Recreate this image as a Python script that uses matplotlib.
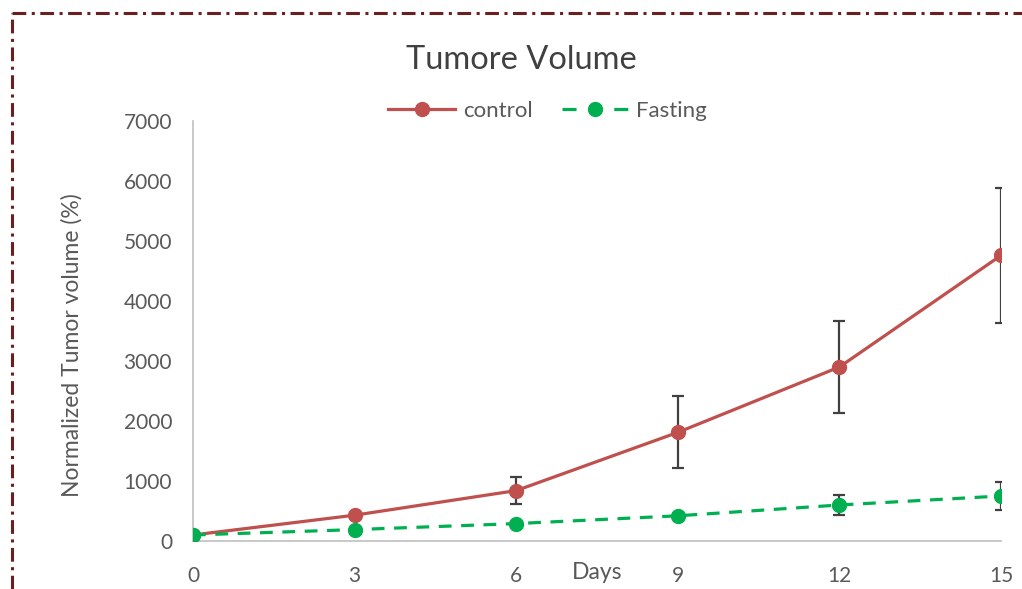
import matplotlib
matplotlib.use('Agg')
import matplotlib.pyplot as plt
from matplotlib.lines import Line2D

plt.rcParams['font.family'] = ['Lato', 'DejaVu Sans']

days = [0, 3, 6, 9, 12, 15]
control = [100, 430, 840, 1810, 2900, 4760]
control_err = [0, 0, 230, 600, 770, 1130]
fasting = [100, 190, 290, 420, 600, 750]
fasting_err = [0, 0, 0, 0, 170, 230]
y_ticks = [0, 1000, 2000, 3000, 4000, 5000, 6000, 7000]

fig = plt.figure(figsize=(10.22, 5.89), dpi=100)
ax = fig.add_axes([0.1888, 0.0815, 0.7907, 0.7131])

ax.errorbar(days, control, yerr=control_err, color='#C0504D', lw=2.3,
            marker='o', ms=10, ecolor='#404040', elinewidth=1.6,
            capsize=4, capthick=1.6, label='control', zorder=3)
ax.errorbar(days, fasting, yerr=fasting_err, color='#00B050', lw=2.3,
            ls=(0, (4, 3)), marker='o', ms=10, ecolor='#404040',
            elinewidth=1.6, capsize=4, capthick=1.6, label='Fasting', zorder=3)

ax.set_xlim(0, 15)
ax.set_ylim(0, 7000)
ax.set_xticks(days)
ax.set_yticks(y_ticks)
ax.tick_params(axis='x', length=0, pad=18, labelsize=15, colors='#595959')
ax.tick_params(axis='y', length=0, pad=15, labelsize=15, colors='#595959')
for s in ['top', 'right']:
    ax.spines[s].set_visible(False)
for s in ['left', 'bottom']:
    ax.spines[s].set_color('#BFBFBF')
    ax.spines[s].set_linewidth(1.2)

fig.text(72 / 1022, 1 - 345 / 589, 'Normalized Tumor volume (%)', fontsize=16.5,
         color='#595959', rotation=90, ha='center', va='center')
ax.text(7.5, -517, 'Days', fontsize=16.5, color='#595959', ha='center', va='center')

fig.text(0.51, 0.898, 'Tumore Volume', fontsize=23.5, color='#404040', ha='center', va='center')

handles = [Line2D([], [], color='#C0504D', lw=2.3, marker='o', ms=10),
           Line2D([], [], color='#00B050', lw=2.3, ls=(0, (4.4, 3.7)), marker='o', ms=10)]
fig.legend(handles, ['control', 'Fasting'], loc='center', bbox_to_anchor=(0.536, 0.812),
           ncol=2, frameon=False, fontsize=16, labelcolor='#595959',
           handlelength=3.0, columnspacing=1.3, handletextpad=0.36)

# dash-dot border along top and left edges
border = dict(color='#6B1F1F', lw=2.2, ls=(0, (4.5, 1.8, 1, 1.8)))
fig.add_artist(Line2D([0.0117, 1.0], [0.978, 0.978], transform=fig.transFigure, **border))
fig.add_artist(Line2D([0.0117, 0.0117], [0.0, 0.978], transform=fig.transFigure, **border))

fig.savefig('out.png', dpi=100)
